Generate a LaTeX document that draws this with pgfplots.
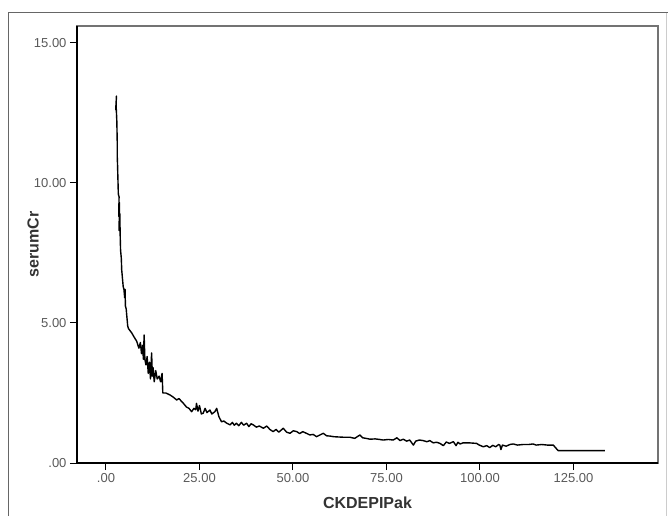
\documentclass[border=0pt]{standalone}
\usepackage{fontspec}
\setmainfont{Liberation Sans}
\usepackage{pgfplots}
\pgfplotsset{compat=1.18}

\begin{document}
\begin{tikzpicture}
\useasboundingbox (-77pt,-53pt) rectangle (591pt,463pt);
\begin{axis}[
  name=ax, at={(0pt,0pt)}, anchor=south west,
  scale only axis, width=581pt, height=437pt,
  xmin=-7.75, xmax=147.6, ymin=0, ymax=15.6,
  axis line style={black!55, line width=1.3pt},
  xtick={0,25,50,75,100,125},
  xticklabels={.00,25.00,50.00,75.00,100.00,125.00},
  ytick={0,5,10,15},
  yticklabels={.00,5.00,10.00,15.00},
  xtick pos=left, ytick pos=left, tick align=outside,
  major tick length=7pt,
  tick style={black, line width=1pt},
  ticklabel style={font=\fontsize{13}{15}\selectfont, text=black!65},
  xlabel={CKDEPIPak}, ylabel={serumCr},
  label style={font=\fontsize{16}{18}\selectfont\bfseries, text=black!80},
  xlabel style={at={(axis description cs:0.5,-0.0915)}, anchor=center},
  ylabel style={at={(axis description cs:-0.0757,0.5)}, anchor=center},
]
\addplot[black, line width=1.4pt, line join=round] coordinates {
(2.6,12.6) (2.8,13.1) (2.7,12.8) (2.9,12.2) (3.0,11.5) (3.0,11.0) (3.1,10.6)
(3.2,10.1) (3.3,9.6) (3.5,9.5) (3.4,8.8) (3.6,9.3) (3.5,8.3) (3.7,8.9) (3.8,8.1)
(3.9,7.6) (4.1,7.3) (4.2,6.9) (4.4,6.6) (4.6,6.3) (4.8,6.2) (5.0,5.9) (5.1,6.2)
(5.2,5.6) (5.4,5.5) (5.6,5.2) (5.8,4.9) (6.0,4.8)
(6.9,4.64) (7.5,4.5) (8.2,4.35) (8.8,4.1) (9.2,4.3) (9.5,3.9) (9.8,4.2) (10.0,3.7)
(10.2,4.57) (10.4,3.7) (10.7,3.5) (11.0,3.8) (11.3,3.2) (11.6,3.6) (11.9,3.0)
(12.2,3.93) (12.4,3.1) (12.6,3.4) (12.9,2.9) (13.3,3.3) (13.7,3.0) (14.2,3.1)
(14.6,2.9) (15.0,3.2) (15.2,2.5) (16.0,2.5) (17.1,2.43) (18.0,2.35) (18.9,2.25)
(19.5,2.3) (20.7,2.13) (21.5,2.0) (22.2,1.95) (22.9,1.83) (23.5,1.95) (24.0,1.9)
(24.2,2.13) (24.6,1.85) (25.0,2.05) (25.5,1.75) (26.0,1.78) (26.5,1.95) (27.0,1.8)
(27.8,1.89) (28.3,1.75) (29.1,1.83) (29.6,1.95) (30.2,1.65) (30.9,1.47) (31.5,1.5)
(32.3,1.42) (33.2,1.36) (33.8,1.45) (34.3,1.35) (34.9,1.42) (35.5,1.33) (36.2,1.45)
(36.8,1.35) (37.6,1.42) (38.2,1.3) (38.8,1.4) (39.4,1.36) (40.2,1.28) (41.0,1.32)
(42.1,1.24) (43.0,1.32) (43.8,1.2) (44.7,1.12) (45.5,1.2) (46.2,1.1) (47.4,1.24)
(48.3,1.1) (49.2,1.06) (50.1,1.15) (51.0,1.12) (51.8,1.05) (52.6,1.12) (53.6,1.06)
(54.5,1.0) (55.4,1.02) (56.3,0.94) (57.2,1.0) (58.1,1.06) (59.0,0.97) (60.0,0.96)
(60.8,0.94) (62.0,0.93) (63.5,0.92) (65.2,0.92) (66.5,0.88) (67.9,1.0) (68.6,0.9)
(69.5,0.88) (70.6,0.85) (72.0,0.86) (73.2,0.84) (74.1,0.82) (75.5,0.84) (76.8,0.82)
(77.8,0.9) (78.6,0.8) (79.5,0.85) (80.4,0.78) (81.2,0.82) (82.2,0.64) (82.8,0.78)
(83.8,0.82) (84.8,0.8) (85.8,0.76) (86.6,0.8) (87.5,0.72) (88.4,0.74) (89.3,0.7)
(90.2,0.62) (91.0,0.75) (91.8,0.7) (92.9,0.76) (93.6,0.62) (94.1,0.74) (94.7,0.68)
(95.5,0.72) (97.0,0.72) (99.1,0.7) (99.8,0.64) (100.9,0.58) (101.8,0.62) (102.6,0.55)
(103.4,0.63) (104.2,0.58) (105.0,0.66) (105.3,0.64) (105.6,0.48) (106.0,0.64)
(107.0,0.6) (108.0,0.66) (108.9,0.68) (110.0,0.64) (111.5,0.66) (113.0,0.66)
(114.2,0.68) (115.0,0.64) (116.5,0.66) (118.0,0.64) (119.6,0.64) (120.9,0.44)
(133.4,0.44)
};
\end{axis}
% thick left and bottom spines
\draw[black, line width=2pt] (ax.north west) -- (ax.south west) -- (ax.south east);
% outer frame
\draw[black!60, line width=1pt] ([xshift=-68pt,yshift=-53pt]ax.south west)
  -- ([xshift=-68pt,yshift=450pt]ax.south west) -- ([xshift=591pt,yshift=450pt]ax.south west);
\draw[black!20, line width=1pt] ([xshift=589pt,yshift=450pt]ax.south west)
  -- ([xshift=589pt,yshift=-53pt]ax.south west);
\end{tikzpicture}
\end{document}
